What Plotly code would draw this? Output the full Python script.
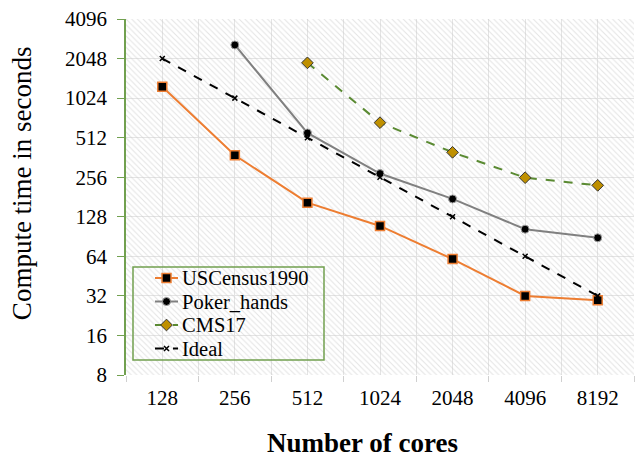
import plotly.graph_objects as go

cores = ["128", "256", "512", "1024", "2048", "4096", "8192"]
uscensus = [1250, 376, 164, 109, 61, 32, 29.7]
poker_x = ["256", "512", "1024", "2048", "4096", "8192"]
poker = [2600, 556, 273, 175, 103, 88.6]
cms_x = ["512", "1024", "2048", "4096", "8192"]
cms = [1900, 666, 396, 254, 222]
ideal = [2048, 1024, 512, 256, 128, 64, 32]
yticks = [8, 16, 32, 64, 128, 256, 512, 1024, 2048, 4096]
series_names = ["USCensus1990", "Poker_hands", "CMS17", "Ideal"]

idx = {c: i for i, c in enumerate(cores)}
FONT = "Liberation Serif"
GREEN = "#71A04F"

styles = {
    "USCensus1990": dict(line=dict(color="#ED7D31", width=2),
                         marker=dict(symbol="square", size=9, color="black",
                                     line=dict(color="#ED7D31", width=1.5))),
    "Poker_hands": dict(line=dict(color="#808080", width=2),
                        marker=dict(symbol="circle", size=8, color="black",
                                    line=dict(color="#a0a0a0", width=1))),
    "CMS17": dict(line=dict(color="#5A8A32", width=2, dash="dash"),
                  marker=dict(symbol="diamond", size=9, color="#BF9000",
                              line=dict(color="#333333", width=1))),
    "Ideal": dict(line=dict(color="black", width=2, dash="dash"),
                  marker=dict(symbol="x-thin", size=5, color="black",
                              line=dict(color="black", width=1.5))),
}

fig = go.Figure()

# hatched plot background
fig.add_trace(go.Scatter(
    x=[-0.5, 6.5, 6.5, -0.5, -0.5], y=[8, 8, 4096, 4096, 8],
    mode="lines", line=dict(width=0), fill="toself",
    fillpattern=dict(shape="\\", fgcolor="#c8c8c8", bgcolor="rgba(255,255,255,0)",
                     size=4, solidity=0.25, fillmode="overlay"),
    hoverinfo="skip", showlegend=False))

data = {
    "USCensus1990": (cores, uscensus),
    "Poker_hands": (poker_x, poker),
    "CMS17": (cms_x, cms),
    "Ideal": (cores, ideal),
}
for name in series_names:
    xs, ys = data[name]
    fig.add_trace(go.Scatter(x=[idx[c] for c in xs], y=ys, name=name, mode="lines+markers",
                             showlegend=False, **styles[name]))

# custom legend (overlay axes in pixel units of the plot area)
leg_rows = [278, 301.5, 325, 348.5]
for name, ry in zip(series_names, leg_rows):
    st = styles[name]
    fig.add_trace(go.Scatter(x=[155, 178], y=[ry, ry], mode="lines", line=st["line"],
                             xaxis="x2", yaxis="y2", showlegend=False, hoverinfo="skip"))
    fig.add_trace(go.Scatter(x=[166.5], y=[ry], mode="markers", marker=st["marker"],
                             xaxis="x2", yaxis="y2", showlegend=False, hoverinfo="skip"))
    fig.add_annotation(x=180, y=ry, xref="x2", yref="y2", text=name, showarrow=False,
                       xanchor="left", yanchor="middle",
                       font=dict(family=FONT, size=20.5, color="black"))
fig.add_shape(type="rect", xref="x2", yref="y2", x0=133, x1=324, y0=267, y1=360,
              line=dict(color=GREEN, width=1.5), fillcolor="rgba(0,0,0,0)")

# axis titles
fig.add_annotation(x=-0.2047, y=0.539, xref="paper", yref="paper", text="Compute time in seconds",
                   textangle=-90, showarrow=False, xanchor="center", yanchor="middle",
                   font=dict(family=FONT, size=27, color="black"))
fig.add_annotation(x=0.4665, y=-0.2355, xref="paper", yref="paper", text="<b>Number of cores</b>",
                   showarrow=False, xanchor="center", yanchor="bottom", borderpad=0,
                   font=dict(family=FONT, size=27, color="black"))

fig.update_layout(
    width=636, height=459,
    margin=dict(l=126, r=2, t=19, b=84),
    paper_bgcolor="white", plot_bgcolor="white",
    font=dict(family=FONT, size=21, color="black"),
    showlegend=False,
    xaxis=dict(
        range=[-0.5, 6.5], tickmode="array", tickvals=list(range(len(cores))), ticktext=cores,
        tickfont=dict(family=FONT, size=21),
        showgrid=True, gridcolor="#e4e4e4", gridwidth=1, ticks="", ticklabelstandoff=8,
        showline=False, zeroline=False,
        minor=dict(tickmode="array", tickvals=[i - 0.5 for i in range(len(cores) + 1)],
                   showgrid=True, gridcolor="#e4e4e4", ticks="outside", ticklen=6,
                   tickcolor="#d0d0d0", tickwidth=1),
    ),
    yaxis=dict(
        type="log", range=[0.90309, 3.61236], tickmode="array", tickvals=yticks,
        ticktext=[str(v) for v in yticks], tickfont=dict(family=FONT, size=21),
        showgrid=True, gridcolor="#e4e4e4",
        showline=True, linecolor=GREEN, linewidth=1.5, ticks="outside", ticklen=7,
        tickcolor=GREEN, tickwidth=1, zeroline=False, ticklabelstandoff=6,
    ),
    xaxis2=dict(overlaying="x", range=[126, 634], visible=False),
    yaxis2=dict(overlaying="y", range=[375, 19], visible=False),
)

fig.write_html("out.html")
